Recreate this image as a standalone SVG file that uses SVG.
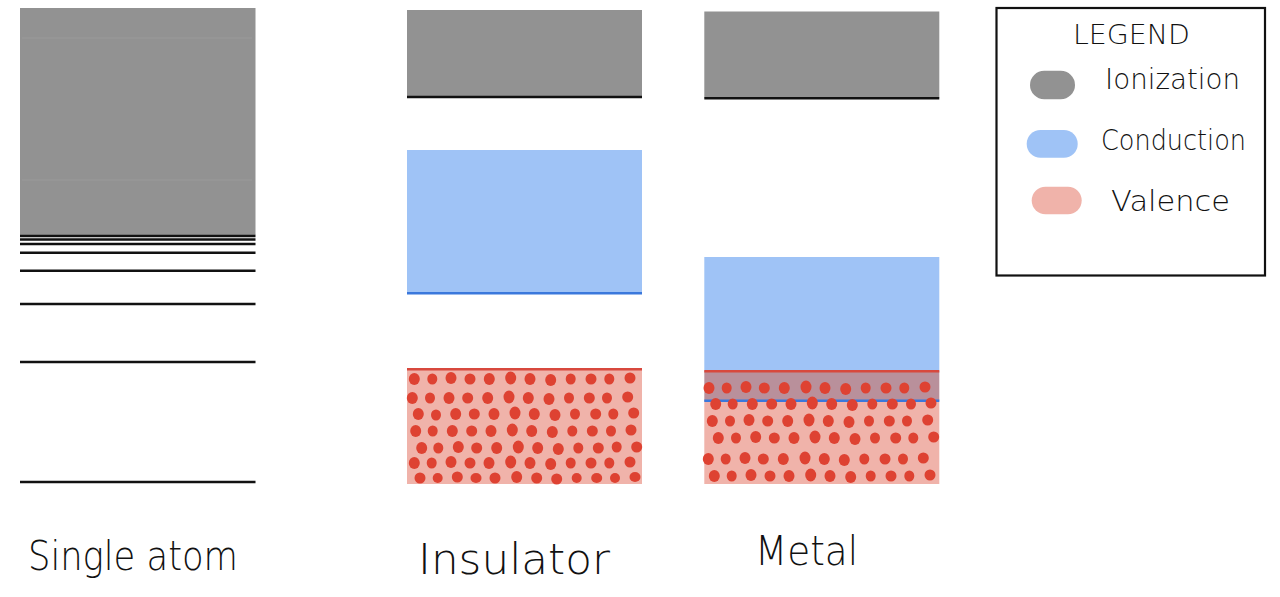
<svg xmlns="http://www.w3.org/2000/svg" width="1280" height="597" viewBox="0 0 1280 597">
<style>
.ion{fill:#929292}
.cond{fill:#9fc3f6}
.val{fill:#f0b3aa}
.ovl{fill:#b9909b}
.lvl{stroke:#111;stroke-width:2.6}
.bl{stroke:#3b78dc;stroke-width:2.6}
.rl{stroke:#d8483d;stroke-width:2.6}
.d{fill:#de4232}
.hand{font-family:"DejaVu Sans","Liberation Sans",sans-serif;font-weight:300;fill:#111}
.faint{stroke:#9a9a9a;stroke-width:1}
</style>
<rect width="1280" height="597" fill="#fff"/>
<g id="single-atom">
<rect class="ion" x="20" y="8" width="235.5" height="227"/>
<line class="faint" x1="22" y1="38" x2="252" y2="38"/>
<line class="faint" x1="22" y1="180" x2="252" y2="180"/>
<line class="lvl" x1="20" y1="236" x2="255.5" y2="236"/>
<line class="lvl" x1="20" y1="239.5" x2="255.5" y2="239.5"/>
<line class="lvl" x1="20" y1="244" x2="255.5" y2="244"/>
<line class="lvl" x1="20" y1="252.7" x2="255.5" y2="252.7"/>
<line class="lvl" x1="20" y1="270.7" x2="255.5" y2="270.7"/>
<line class="lvl" x1="20" y1="304" x2="255.5" y2="304"/>
<line class="lvl" x1="20" y1="362" x2="255.5" y2="362"/>
<line class="lvl" x1="20" y1="482" x2="255.5" y2="482"/>
<text class="hand" x="28" y="570" font-size="40" textLength="210" lengthAdjust="spacingAndGlyphs">Single atom</text>
</g>
<g id="insulator">
<rect class="ion" x="407" y="10" width="235" height="86"/>
<line class="lvl" x1="407" y1="97" x2="642" y2="97"/>
<rect class="cond" x="407" y="150" width="235" height="143"/>
<line class="bl" x1="407" y1="293.3" x2="642" y2="293.3"/>
<rect class="val" x="407" y="369" width="235" height="115"/>
<line class="rl" x1="407" y1="369.3" x2="642" y2="369.3"/>
<g id="insulator-dots">
<ellipse class="d" cx="414.3" cy="379" rx="5.5" ry="6"/><ellipse class="d" cx="432.3" cy="379" rx="5" ry="5.5"/><ellipse class="d" cx="451" cy="378" rx="5.5" ry="6"/><ellipse class="d" cx="470" cy="379" rx="5.5" ry="5.5"/><ellipse class="d" cx="489.3" cy="379" rx="5.5" ry="6"/><ellipse class="d" cx="510.7" cy="378" rx="5.5" ry="6.5"/><ellipse class="d" cx="530" cy="379" rx="5.5" ry="6"/><ellipse class="d" cx="550.7" cy="380" rx="5.5" ry="6"/><ellipse class="d" cx="570.7" cy="379" rx="5" ry="5.5"/><ellipse class="d" cx="591" cy="379" rx="5.5" ry="5.5"/><ellipse class="d" cx="609.3" cy="379" rx="5" ry="5.5"/><ellipse class="d" cx="630" cy="378" rx="5.5" ry="5.5"/>
<ellipse class="d" cx="412.3" cy="398" rx="5.5" ry="6"/><ellipse class="d" cx="430" cy="398" rx="5" ry="5.5"/><ellipse class="d" cx="449" cy="398" rx="5.5" ry="6"/><ellipse class="d" cx="467.7" cy="398" rx="5.5" ry="5.5"/><ellipse class="d" cx="487.7" cy="398" rx="5.5" ry="6"/><ellipse class="d" cx="509" cy="397" rx="5.5" ry="6.5"/><ellipse class="d" cx="528.3" cy="398" rx="5.5" ry="6"/><ellipse class="d" cx="549" cy="399" rx="5.5" ry="6"/><ellipse class="d" cx="569" cy="398" rx="5" ry="5.5"/><ellipse class="d" cx="589.3" cy="398" rx="5.5" ry="5.5"/><ellipse class="d" cx="607" cy="398" rx="5" ry="5.5"/><ellipse class="d" cx="627.7" cy="397" rx="5.5" ry="5.5"/>
<ellipse class="d" cx="418.3" cy="414" rx="5.5" ry="6"/><ellipse class="d" cx="436" cy="415" rx="5" ry="5.5"/><ellipse class="d" cx="455.7" cy="414" rx="5.5" ry="6"/><ellipse class="d" cx="474.3" cy="414" rx="5.5" ry="5.5"/><ellipse class="d" cx="494" cy="414" rx="5.5" ry="6"/><ellipse class="d" cx="515" cy="413" rx="5.5" ry="6.5"/><ellipse class="d" cx="534.3" cy="414" rx="5.5" ry="6"/><ellipse class="d" cx="555" cy="415" rx="5.5" ry="6"/><ellipse class="d" cx="575" cy="414" rx="5" ry="5.5"/><ellipse class="d" cx="595.7" cy="414" rx="5.5" ry="5.5"/><ellipse class="d" cx="613.3" cy="414" rx="5" ry="5.5"/><ellipse class="d" cx="633.7" cy="413" rx="5.5" ry="5.5"/>
<ellipse class="d" cx="415.7" cy="431" rx="5.5" ry="6"/><ellipse class="d" cx="432.7" cy="431" rx="5" ry="5.5"/><ellipse class="d" cx="452.3" cy="431" rx="5.5" ry="6"/><ellipse class="d" cx="471.7" cy="431" rx="5.5" ry="5.5"/><ellipse class="d" cx="491" cy="431" rx="5.5" ry="6"/><ellipse class="d" cx="512.3" cy="430" rx="5.5" ry="6.5"/><ellipse class="d" cx="531.7" cy="431" rx="5.5" ry="6"/><ellipse class="d" cx="552.3" cy="432" rx="5.5" ry="6"/><ellipse class="d" cx="572.3" cy="431" rx="5" ry="5.5"/><ellipse class="d" cx="592.3" cy="431" rx="5.5" ry="5.5"/><ellipse class="d" cx="611" cy="431" rx="5" ry="5.5"/><ellipse class="d" cx="631" cy="430" rx="5.5" ry="5.5"/>
<ellipse class="d" cx="421.7" cy="448" rx="5.5" ry="6"/><ellipse class="d" cx="438.3" cy="448" rx="5" ry="5.5"/><ellipse class="d" cx="458.3" cy="447" rx="5.5" ry="6"/><ellipse class="d" cx="476.7" cy="448" rx="5.5" ry="5.5"/><ellipse class="d" cx="496.7" cy="448" rx="5.5" ry="6"/><ellipse class="d" cx="518.3" cy="447" rx="5.5" ry="6.5"/><ellipse class="d" cx="537.7" cy="448" rx="5.5" ry="6"/><ellipse class="d" cx="558.3" cy="449" rx="5.5" ry="6"/><ellipse class="d" cx="578.3" cy="448" rx="5" ry="5.5"/><ellipse class="d" cx="598.3" cy="448" rx="5.5" ry="5.5"/><ellipse class="d" cx="616.7" cy="447" rx="5" ry="5.5"/><ellipse class="d" cx="636.7" cy="447" rx="5.5" ry="5.5"/>
<ellipse class="d" cx="414.3" cy="463" rx="5.5" ry="6"/><ellipse class="d" cx="431.7" cy="463" rx="5" ry="5.5"/><ellipse class="d" cx="451" cy="462" rx="5.5" ry="6"/><ellipse class="d" cx="470" cy="463" rx="5.5" ry="5.5"/><ellipse class="d" cx="489" cy="463" rx="5.5" ry="6"/><ellipse class="d" cx="510.7" cy="462" rx="5.5" ry="6.5"/><ellipse class="d" cx="530" cy="463" rx="5.5" ry="6"/><ellipse class="d" cx="550.7" cy="464" rx="5.5" ry="6"/><ellipse class="d" cx="570.7" cy="463" rx="5" ry="5.5"/><ellipse class="d" cx="591" cy="463" rx="5.5" ry="5.5"/><ellipse class="d" cx="609.3" cy="463" rx="5" ry="5.5"/><ellipse class="d" cx="630" cy="462" rx="5.5" ry="5.5"/>
<ellipse class="d" cx="420" cy="478" rx="5.5" ry="5.5"/><ellipse class="d" cx="437.7" cy="478" rx="5" ry="5"/><ellipse class="d" cx="457.3" cy="477" rx="5.5" ry="5.5"/><ellipse class="d" cx="476" cy="478" rx="5.5" ry="5"/><ellipse class="d" cx="495" cy="478" rx="5.5" ry="5.5"/><ellipse class="d" cx="516.7" cy="477" rx="5.5" ry="6"/><ellipse class="d" cx="536.7" cy="478" rx="5.5" ry="5.5"/><ellipse class="d" cx="556.7" cy="479" rx="5.5" ry="5.5"/><ellipse class="d" cx="576.7" cy="478" rx="5" ry="5"/><ellipse class="d" cx="596.7" cy="478" rx="5.5" ry="5"/><ellipse class="d" cx="615" cy="478" rx="5" ry="5"/><ellipse class="d" cx="635" cy="477" rx="5.5" ry="5"/>
</g>
<text class="hand" x="418" y="574" font-size="42" textLength="192" lengthAdjust="spacingAndGlyphs">Insulator</text>
</g>
<g id="metal">
<rect class="ion" x="704.3" y="11.5" width="235" height="86"/>
<line class="lvl" x1="704.3" y1="98.3" x2="939.3" y2="98.3"/>
<rect class="cond" x="704.3" y="257" width="235" height="114"/>
<rect class="val" x="704.3" y="401" width="235" height="83"/>
<rect class="ovl" x="704.3" y="371" width="235" height="30"/>
<line class="rl" x1="704.3" y1="371.3" x2="939.3" y2="371.3"/>
<line class="bl" x1="704.3" y1="400.7" x2="939.3" y2="400.7"/>
<g id="metal-dots">
<ellipse class="d" cx="709" cy="388" rx="5.5" ry="6"/><ellipse class="d" cx="726.7" cy="388" rx="5" ry="5.5"/><ellipse class="d" cx="746" cy="387" rx="5.5" ry="6"/><ellipse class="d" cx="764.3" cy="388" rx="5.5" ry="5.5"/><ellipse class="d" cx="784.3" cy="388" rx="5.5" ry="6"/><ellipse class="d" cx="806" cy="387" rx="5.5" ry="6.5"/><ellipse class="d" cx="825" cy="388" rx="5.5" ry="6"/><ellipse class="d" cx="845.7" cy="389" rx="5.5" ry="6"/><ellipse class="d" cx="865.7" cy="388" rx="5" ry="5.5"/><ellipse class="d" cx="886" cy="388" rx="5.5" ry="5.5"/><ellipse class="d" cx="904.3" cy="388" rx="5" ry="5.5"/><ellipse class="d" cx="925" cy="387" rx="5.5" ry="5.5"/>
<ellipse class="d" cx="715.7" cy="404" rx="5.5" ry="6"/><ellipse class="d" cx="732.7" cy="404" rx="5" ry="5.5"/><ellipse class="d" cx="752.3" cy="404" rx="5.5" ry="6"/><ellipse class="d" cx="771.7" cy="404" rx="5.5" ry="5.5"/><ellipse class="d" cx="791" cy="404" rx="5.5" ry="6"/><ellipse class="d" cx="812.3" cy="403" rx="5.5" ry="6.5"/><ellipse class="d" cx="831.7" cy="404" rx="5.5" ry="6"/><ellipse class="d" cx="852.3" cy="405" rx="5.5" ry="6"/><ellipse class="d" cx="872.3" cy="404" rx="5" ry="5.5"/><ellipse class="d" cx="892.3" cy="404" rx="5.5" ry="5.5"/><ellipse class="d" cx="911" cy="404" rx="5" ry="5.5"/><ellipse class="d" cx="931" cy="403" rx="5.5" ry="5.5"/>
<ellipse class="d" cx="712.3" cy="421" rx="5.5" ry="6"/><ellipse class="d" cx="730" cy="421" rx="5" ry="5.5"/><ellipse class="d" cx="749" cy="420" rx="5.5" ry="6"/><ellipse class="d" cx="767.7" cy="421" rx="5.5" ry="5.5"/><ellipse class="d" cx="787.7" cy="421" rx="5.5" ry="6"/><ellipse class="d" cx="809" cy="420" rx="5.5" ry="6.5"/><ellipse class="d" cx="828.3" cy="421" rx="5.5" ry="6"/><ellipse class="d" cx="849" cy="422" rx="5.5" ry="6"/><ellipse class="d" cx="869" cy="421" rx="5" ry="5.5"/><ellipse class="d" cx="889.3" cy="421" rx="5.5" ry="5.5"/><ellipse class="d" cx="907" cy="421" rx="5" ry="5.5"/><ellipse class="d" cx="927.7" cy="420" rx="5.5" ry="5.5"/>
<ellipse class="d" cx="718.3" cy="438" rx="5.5" ry="6"/><ellipse class="d" cx="736" cy="438" rx="5" ry="5.5"/><ellipse class="d" cx="755.7" cy="437" rx="5.5" ry="6"/><ellipse class="d" cx="774.3" cy="438" rx="5.5" ry="5.5"/><ellipse class="d" cx="794" cy="438" rx="5.5" ry="6"/><ellipse class="d" cx="815" cy="437" rx="5.5" ry="6.5"/><ellipse class="d" cx="834.3" cy="438" rx="5.5" ry="6"/><ellipse class="d" cx="855" cy="439" rx="5.5" ry="6"/><ellipse class="d" cx="875" cy="438" rx="5" ry="5.5"/><ellipse class="d" cx="895.7" cy="438" rx="5.5" ry="5.5"/><ellipse class="d" cx="913.3" cy="438" rx="5" ry="5.5"/><ellipse class="d" cx="933.7" cy="437" rx="5.5" ry="5.5"/>
<ellipse class="d" cx="708.3" cy="459" rx="5.5" ry="6"/><ellipse class="d" cx="725.7" cy="459" rx="5" ry="5.5"/><ellipse class="d" cx="745" cy="458" rx="5.5" ry="6"/><ellipse class="d" cx="763.3" cy="459" rx="5.5" ry="5.5"/><ellipse class="d" cx="783.3" cy="459" rx="5.5" ry="6"/><ellipse class="d" cx="805" cy="458" rx="5.5" ry="6.5"/><ellipse class="d" cx="824.3" cy="459" rx="5.5" ry="6"/><ellipse class="d" cx="844.3" cy="460" rx="5.5" ry="6"/><ellipse class="d" cx="864.3" cy="459" rx="5" ry="5.5"/><ellipse class="d" cx="885" cy="459" rx="5.5" ry="5.5"/><ellipse class="d" cx="903" cy="459" rx="5" ry="5.5"/><ellipse class="d" cx="923.3" cy="458" rx="5.5" ry="5.5"/>
<ellipse class="d" cx="714.3" cy="476" rx="5.5" ry="6"/><ellipse class="d" cx="731.7" cy="476" rx="5" ry="5.5"/><ellipse class="d" cx="751" cy="475" rx="5.5" ry="6"/><ellipse class="d" cx="770" cy="476" rx="5.5" ry="5.5"/><ellipse class="d" cx="789" cy="476" rx="5.5" ry="6"/><ellipse class="d" cx="810.7" cy="475" rx="5.5" ry="6.5"/><ellipse class="d" cx="830" cy="476" rx="5.5" ry="6"/><ellipse class="d" cx="850.7" cy="477" rx="5.5" ry="6"/><ellipse class="d" cx="870.7" cy="476" rx="5" ry="5.5"/><ellipse class="d" cx="891" cy="476" rx="5.5" ry="5.5"/><ellipse class="d" cx="909.3" cy="476" rx="5" ry="5.5"/><ellipse class="d" cx="930" cy="475" rx="5.5" ry="5.5"/>
</g>
<text class="hand" x="755" y="565" font-size="40" textLength="103" lengthAdjust="spacingAndGlyphs">Metal</text>
</g>
<g id="legend">
<rect x="996.5" y="8" width="268.5" height="267.5" fill="#fff" stroke="#111" stroke-width="2.2"/>
<text class="hand" x="1073" y="44" font-size="26" textLength="117" lengthAdjust="spacingAndGlyphs">LEGEND</text>
<rect x="1030" y="70.7" width="45" height="28.6" rx="14.3" class="ion"/>
<rect x="1026.7" y="130" width="51" height="27.7" rx="13.8" class="cond"/>
<rect x="1031.7" y="186.7" width="50" height="27.6" rx="13.8" class="val"/>
<text class="hand" x="1105" y="89" font-size="28" textLength="135" lengthAdjust="spacingAndGlyphs">Ionization</text>
<text class="hand" x="1101" y="150" font-size="28" textLength="145" lengthAdjust="spacingAndGlyphs">Conduction</text>
<text class="hand" x="1111" y="211" font-size="28" textLength="119" lengthAdjust="spacingAndGlyphs">Valence</text>
</g>
</svg>
